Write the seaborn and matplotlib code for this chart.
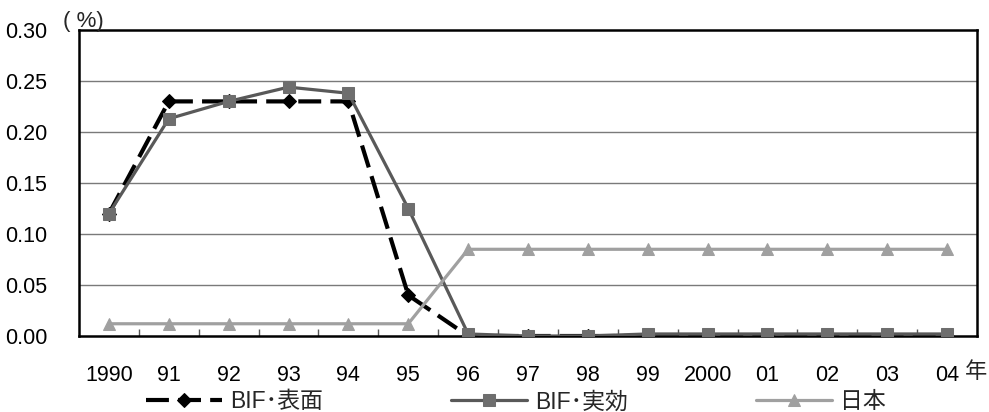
import matplotlib
matplotlib.use("Agg")
import matplotlib.pyplot as plt
import seaborn as sns
import pandas as pd
from matplotlib.ticker import FixedLocator

years = ["1990", "91", "92", "93", "94", "95", "96", "97", "98", "99",
         "2000", "01", "02", "03", "04"]
bif_surface = [0.120, 0.230, 0.230, 0.230, 0.230, 0.040, 0.000, 0.000,
               0.000, 0.000, 0.000, 0.000, 0.000, 0.000, 0.000]
bif_effective = [0.120, 0.213, 0.230, 0.244, 0.238, 0.125, 0.002, 0.000,
                 0.000, 0.002, 0.002, 0.002, 0.002, 0.002, 0.002]
japan = [0.012, 0.012, 0.012, 0.012, 0.012, 0.012, 0.085, 0.085,
         0.085, 0.085, 0.085, 0.085, 0.085, 0.085, 0.085]
series_names = ["BIF･表面", "BIF･実効", "日本"]
y_ticks = [0.00, 0.05, 0.10, 0.15, 0.20, 0.25, 0.30]

sns.set_theme(style="white")
plt.rcParams["font.family"] = ["Liberation Sans", "Noto Sans CJK JP"]

df = pd.DataFrame({"year": years, "s": bif_surface, "e": bif_effective, "j": japan})

fig = plt.figure(figsize=(9.89, 4.12), dpi=100)
ax = fig.add_axes([79/989, 1 - 336/412, (977 - 79)/989, (336 - 30)/412])

sns.lineplot(data=df, x="year", y="s", ax=ax, color="#000000", linewidth=3.0,
             linestyle=(0, (5.5, 2.2)), marker="D", markersize=7,
             markerfacecolor="#000000", markeredgecolor="#000000",
             label=series_names[0], sort=False, zorder=3)
sns.lineplot(data=df, x="year", y="e", ax=ax, color="#595959", linewidth=2.3,
             marker="s", markersize=8, markerfacecolor="#6e6e6e",
             markeredgecolor="#6e6e6e", label=series_names[1], sort=False, zorder=4)
sns.lineplot(data=df, x="year", y="j", ax=ax, color="#a0a0a0", linewidth=2.3,
             marker="^", markersize=8.5, markerfacecolor="#a0a0a0",
             markeredgecolor="#a0a0a0", label=series_names[2], sort=False, zorder=5)

ax.set_xlim(-0.5, len(years) - 0.5)
ax.set_ylim(0, 0.30)
ax.set_yticks(y_ticks)
ax.set_yticklabels([f"{v:.2f}" for v in y_ticks])
ax.set_xticks(range(len(years)))
ax.set_xticklabels(years)
ax.xaxis.set_minor_locator(FixedLocator([i + 0.5 for i in range(len(years) - 1)]))
ax.tick_params(axis="x", which="major", length=0, pad=21, labelsize=15.5, colors="#000000")
ax.tick_params(axis="x", which="minor", direction="in", length=5, width=1,
               color="#555555", bottom=True)
ax.tick_params(axis="y", which="major", length=0, pad=23, labelsize=15.5, colors="#000000")
ax.set_xlabel("")
ax.set_ylabel("")

for v in y_ticks[1:-1]:
    ax.axhline(v, color="#7a7a7a", linewidth=1.0, zorder=1)

for sp in ax.spines.values():
    sp.set_visible(True)
    sp.set_color("#000000")
    sp.set_linewidth(1.8)

ax.get_legend().remove()
handles, labels = ax.get_legend_handles_labels()
fig.legend(handles, labels, loc="center", bbox_to_anchor=(516/989, 1 - 402/412),
           ncol=3, frameon=False, fontsize=16.5, handlelength=3.3,
           handletextpad=0.35, columnspacing=5.6, borderpad=0, borderaxespad=0)

fig.text(83/989, 1 - 22/412, "( %)", ha="center", va="center", fontsize=16)
fig.text(976/989, 1 - 372/412, "年", ha="center", va="center", fontsize=16)

fig.savefig("out.png", dpi=100)
